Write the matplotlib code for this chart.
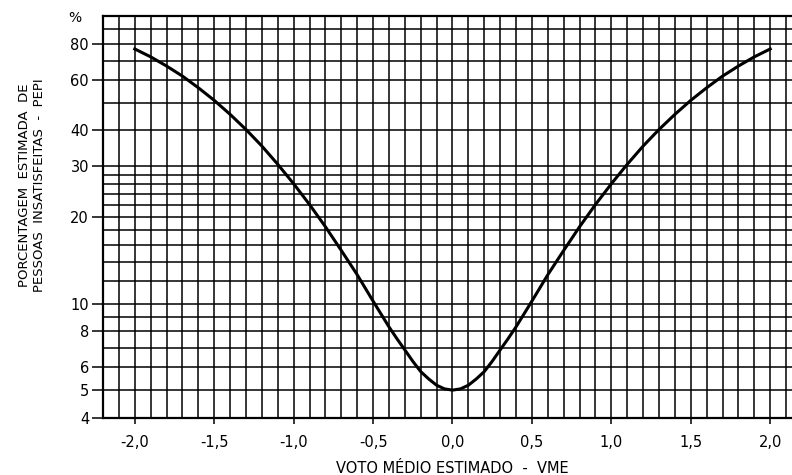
import numpy as np
import matplotlib.pyplot as plt
from matplotlib.ticker import FixedLocator, NullFormatter

# voto medio estimado (VME) x porcentagem de insatisfeitos (PEPI)
vme = [-2.0, -1.9, -1.8, -1.7, -1.6, -1.5, -1.4, -1.3, -1.2, -1.1, -1.0,
       -0.9, -0.8, -0.7, -0.6, -0.5, -0.45, -0.4, -0.35, -0.3, -0.25, -0.2,
       -0.15, -0.1, -0.05, 0.0,
       0.05, 0.1, 0.15, 0.2, 0.25, 0.3, 0.35, 0.4, 0.45, 0.5,
       0.6, 0.7, 0.8, 0.9, 1.0,
       1.1, 1.2, 1.3, 1.4, 1.5, 1.6, 1.7, 1.8, 1.9, 2.0]
pepi = [76.8, 72.1, 67.0, 61.8, 56.3, 50.9, 45.5, 40.3, 35.3, 30.5, 26.1,
        22.1, 18.5, 15.3, 12.6, 10.2, 9.2, 8.3, 7.55, 6.9, 6.3, 5.8,
        5.47, 5.2, 5.05, 5.0,
        5.05, 5.2, 5.47, 5.8, 6.3, 6.9, 7.55, 8.3, 9.2, 10.2,
        12.6, 15.3, 18.5, 22.1, 26.1,
        30.5, 35.3, 40.3, 45.5, 50.9, 56.3, 61.8, 67.0, 72.1, 76.8]

xticks = [-2.0, -1.5, -1.0, -0.5, 0.0, 0.5, 1.0, 1.5, 2.0]
xlabels = ['-2,0', '-1,5', '-1,0', '-0,5', '0,0', '0,5', '1,0', '1,5', '2,0']
yticks = [4, 5, 6, 8, 10, 20, 30, 40, 60, 80]
ylabels = ['4', '5', '6', '8', '10', '20', '30', '40', '60', '80']
ygrid = [5, 6, 7, 8, 9, 10, 12, 14, 16, 18, 20, 22, 24, 26, 28, 30,
         40, 50, 60, 70, 80, 90]

fig = plt.figure(figsize=(7.92, 4.75), dpi=100)
ax = fig.add_axes([103 / 792, 1 - 418 / 475, 699 / 792, 402 / 475])

ax.set_yscale('log')
ax.set_xlim(-2.2, 2.2)
ax.set_ylim(4, 100)

# grade
for gx in np.arange(-22, 23) / 10:
    ax.axvline(gx, color='black', lw=1.1, zorder=1)
for gy in ygrid:
    ax.axhline(gy, color='black', lw=1.1, zorder=1)

ax.plot(vme, pepi, color='black', lw=2.2, zorder=3, solid_joinstyle='round')

ax.xaxis.set_major_locator(FixedLocator(xticks))
ax.set_xticklabels(xlabels, fontsize=10.5)
ax.yaxis.set_major_locator(FixedLocator(yticks))
ax.set_yticklabels(ylabels, fontsize=10.5)
ax.yaxis.set_minor_locator(FixedLocator([]))
ax.yaxis.set_minor_formatter(NullFormatter())
ax.tick_params(axis='y', which='major', direction='out', length=8, width=1.1, pad=2)
ax.tick_params(axis='x', which='major', direction='out', length=4, width=1.1, pad=8)

for s in ax.spines.values():
    s.set_linewidth(1.6)

fig.text(75 / 792, 1 - 18 / 475, '%', ha='center', va='center', fontsize=10)

ax.set_xlabel('VOTO MÉDIO ESTIMADO  -  VME', fontsize=10.5, labelpad=8)
fig.text(32 / 792, 1 - 185 / 475,
         'PORCENTAGEM  ESTIMADA  DE\nPESSOAS  INSATISFEITAS  -  PEPI',
         rotation=90, ha='center', va='center', multialignment='center',
         fontsize=9.5, linespacing=1.25)

fig.savefig('out.png', dpi=100)
